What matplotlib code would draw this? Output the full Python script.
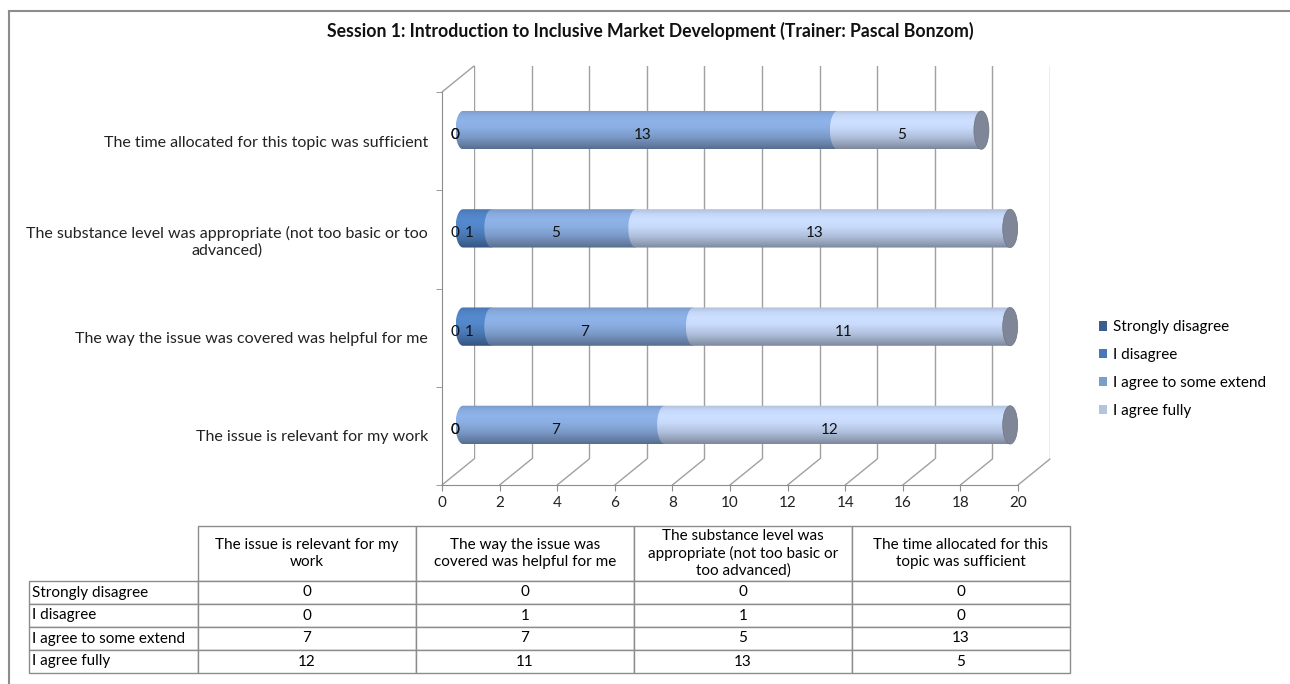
import numpy as np
import matplotlib
matplotlib.use("Agg")
import matplotlib.pyplot as plt
import matplotlib.transforms as mtransforms
from matplotlib.colors import to_rgb
from matplotlib.patches import PathPatch, Ellipse, Patch, ConnectionPatch
from matplotlib.path import Path
from matplotlib.table import Table
from matplotlib.lines import Line2D

plt.rcParams['font.family'] = ['Lato', 'DejaVu Sans']

# ---- data ----
title = "Session 1: Introduction to Inclusive Market Development (Trainer: Pascal Bonzom)"
axis_labels = ["The issue is relevant for my work",
               "The way the issue was covered was helpful for me",
               "The substance level was appropriate (not too basic or too\nadvanced)",
               "The time allocated for this topic was sufficient"]
table_headers = ["The issue is relevant for my\nwork",
                 "The way the issue was\ncovered was helpful for me",
                 "The substance level was\nappropriate (not too basic or\ntoo advanced)",
                 "The time allocated for this\ntopic was sufficient"]
series = ["Strongly disagree", "I disagree", "I agree to some extend", "I agree fully"]
strongly_disagree = [0, 0, 0, 0]
disagree = [0, 1, 1, 0]
agree_some = [7, 7, 5, 13]
agree_fully = [12, 11, 13, 5]
x_ticks = list(range(0, 21, 2))

colors = ["#3c5e8c", "#4a78b4", "#7c9ccb", "#b3c3e0"]
grid_col = "#a0a0a0"
line_col = "#8c8c8c"
fs = 11

W, H = 1290, 684


def px_box(left, top, right, bottom):
    return [left / W, (H - bottom) / H, (right - left) / W, (bottom - top) / H]


fig = plt.figure(figsize=(W / 100, H / 100), dpi=100)

# back wall (gridlines), front axis, bars in between
unit = 576 / 20.0
ax_back = fig.add_axes(px_box(474, 66, 1050, 459), zorder=0)
ax = fig.add_axes(px_box(442, 92, 1018, 485), zorder=1)
ax_bar = fig.add_axes(px_box(463 - unit, 81, 1039, 474), zorder=2)

for a_ in (ax_back, ax):
    a_.set_xlim(0, 20)
    a_.set_ylim(-0.5, 3.5)
    a_.patch.set_alpha(0)
ax_bar.patch.set_alpha(0)
ax_back.axis("off")
ax_bar.axis("off")

for xv in x_ticks:
    ax_back.axvline(xv, color=grid_col, lw=1)

# front axis styling
for s in ("top", "right"):
    ax.spines[s].set_visible(False)
for s in ("left", "bottom"):
    ax.spines[s].set_color(line_col)
ax.set_xticks(x_ticks)
ax.tick_params(axis="x", length=4.3, pad=3.5, color=line_col, labelsize=fs,
               labelcolor="#222222")
ax.set_yticks(range(4))
ax.set_yticklabels(axis_labels, fontsize=11.5, color="#222222")
for lab in ax.get_yticklabels():
    lab.set_multialignment("center")
ax.tick_params(axis="y", which="major", length=0, pad=10)
ax.set_yticks([-0.5, 0.5, 1.5, 2.5, 3.5], minor=True)
ax.tick_params(axis="y", which="minor", length=4.3, color=line_col)

# floor diagonals + top-left wall edge
for xv in x_ticks:
    con = ConnectionPatch(xyA=(xv, -0.5), coordsA=ax.transData,
                          xyB=(xv, -0.5), coordsB=ax_back.transData,
                          color=grid_col, lw=1, zorder=0.5)
    fig.add_artist(con)
con = ConnectionPatch(xyA=(0, 3.5), coordsA=ax.transData,
                      xyB=(0, 3.5), coordsB=ax_back.transData,
                      color=grid_col, lw=1, zorder=0.5)
fig.add_artist(con)

# ---- cylinders ----
data = np.array([strongly_disagree, disagree, agree_some, agree_fully])
rx = 7.5 / unit
ry = 0.195
tt = np.linspace(0, 1, 64)
shade = np.interp(tt, [0, 0.1, 0.3, 0.55, 0.72, 0.88, 1.0],
                  [0.70, 0.80, 0.98, 1.12, 1.15, 1.10, 0.98])
theta = np.linspace(np.pi / 2, 3 * np.pi / 2, 40)
lab_trans = mtransforms.offset_copy(ax_bar.transData, fig=fig, x=-8, y=-5, units="dots")

for i in range(data.shape[1]):
    left = 0
    for j in range(data.shape[0]):
        v = data[j, i]
        if v > 0:
            a, b = left, left + v
            verts = list(zip(a + rx * np.cos(theta), i + ry * np.sin(theta)))
            verts += [(b, i - ry), (b, i + ry), (a, i + ry), verts[0]]
            clip = PathPatch(Path(verts, closed=True), fc="none", ec="none")
            ax_bar.add_patch(clip)
            grad = np.clip(np.array(to_rgb(colors[j]))[None, None, :] *
                           shade[:, None, None], 0, 1)
            im = ax_bar.imshow(grad, extent=(a - rx, b, i - ry, i + ry), origin="lower",
                               aspect="auto", interpolation="bilinear", zorder=2)
            im.set_clip_path(clip)
        ax_bar.text(left + v / 2, i, str(v), transform=lab_trans, ha="center",
                    va="center", fontsize=fs, color="#111111", zorder=5)
        left += v
    ax_bar.add_patch(Ellipse((left, i), 2 * rx, 2 * ry, fc="#7e8698", ec="#6c7484",
                             lw=0.5, zorder=3))

ax_bar.set_xlim(-1, 20)
ax_bar.set_ylim(-0.5, 3.5)

# ---- legend ----
handles = [Patch(facecolor=c, edgecolor="none") for c in colors]
fig.legend(handles, series, loc="center left", bbox_to_anchor=(1085 / W, 1 - 369 / H),
           frameon=False, fontsize=fs, handlelength=0.55, handleheight=0.55,
           handletextpad=0.4, labelspacing=0.9)

# ---- data table ----
ax_t = fig.add_axes(px_box(29, 526, 1070, 673))
ax_t.axis("off")
tb = Table(ax_t, bbox=[0, 0, 1, 1])
col_w = [169, 218, 218, 218, 218]
row_h = [55, 23, 23, 23, 23]
tb.add_cell(0, 0, col_w[0], row_h[0], text="").visible_edges = ""
for c, hdr in enumerate(table_headers):
    cell = tb.add_cell(0, c + 1, col_w[c + 1], row_h[0], text=hdr, loc="center",
                       edgecolor=line_col)
    cell.get_text().set_linespacing(1.25)
for r, name in enumerate(series):
    cell = tb.add_cell(r + 1, 0, col_w[0], row_h[r + 1], text=name, loc="left",
                       edgecolor=line_col)
    cell.PAD = 0.015
    for c in range(data.shape[1]):
        tb.add_cell(r + 1, c + 1, col_w[c + 1], row_h[r + 1], text=str(data[r, c]),
                    loc="center", edgecolor=line_col)
tb.auto_set_font_size(False)
tb.set_fontsize(fs)
ax_t.add_table(tb)

# ---- title and frame ----
fig.text(650 / W, 1 - 31 / H, title, ha="center", va="center", fontsize=12.7,
         fontweight="bold", color="#111111")
fig.add_artist(Line2D([9 / W, 9 / W], [0, 1 - 11 / H], transform=fig.transFigure,
                      color=line_col, lw=1.5))
fig.add_artist(Line2D([9 / W, 1], [1 - 11 / H, 1 - 11 / H], transform=fig.transFigure,
                      color=line_col, lw=1.5))

fig.savefig("out.png", dpi=100)
